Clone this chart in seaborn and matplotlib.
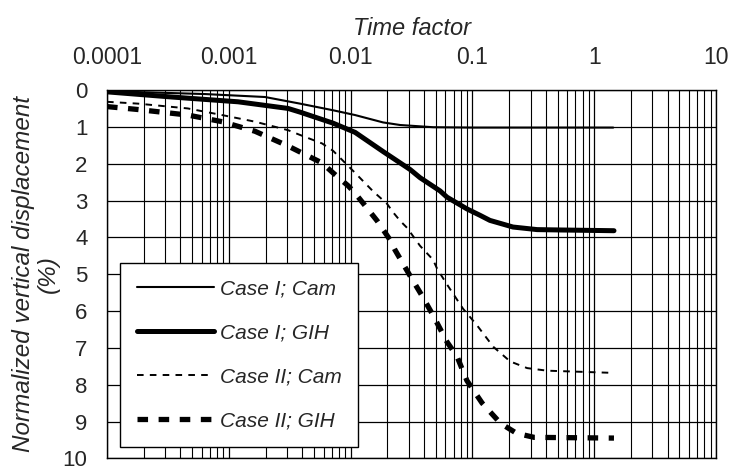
import numpy as np
import pandas as pd
import matplotlib
matplotlib.use("Agg")
import matplotlib.pyplot as plt
import seaborn as sns
from matplotlib.ticker import LogLocator, FixedLocator

# ---- data ----
t_c1_cam = [0.0001, 0.00064, 0.00198, 0.00384, 0.00717, 0.01087, 0.01845, 0.02545,
            0.0475, 0.1, 0.5, 1.43]
d_c1_cam = [0.03, 0.11, 0.19, 0.37, 0.55, 0.68, 0.88, 0.95,
            1.01, 1.02, 1.02, 1.02]

t_c1_gih = [0.0001, 0.00034, 0.00119, 0.00306, 0.00384, 0.00717, 0.01087, 0.01845,
            0.0308, 0.0371, 0.0542, 0.0618, 0.0903, 0.115, 0.139, 0.215, 0.339,
            0.524, 1.45]
d_c1_gih = [0.05, 0.19, 0.32, 0.50, 0.60, 0.90, 1.15, 1.67,
            2.16, 2.38, 2.74, 2.91, 3.23, 3.40, 3.54, 3.72, 3.79,
            3.80, 3.82]

t_c2_cam = [0.0001, 0.00018, 0.00046, 0.00088, 0.00164, 0.00306, 0.00384, 0.00582,
            0.00717, 0.01087, 0.01527, 0.0199, 0.0223, 0.02545, 0.029, 0.0371,
            0.0475, 0.0512, 0.0618, 0.0837, 0.109, 0.148, 0.204, 0.281, 0.409, 1.43]
d_c2_cam = [0.32, 0.37, 0.50, 0.68, 0.86, 1.09, 1.22, 1.45,
            1.65, 2.25, 2.75, 3.09, 3.32, 3.55, 3.74, 4.23,
            4.61, 4.85, 5.28, 5.94, 6.39, 6.97, 7.37, 7.55, 7.62, 7.68]

t_c2_gih = [0.0001, 0.00018, 0.00046, 0.00088, 0.00164, 0.00306, 0.00582, 0.00717,
            0.00953, 0.01087, 0.01648, 0.02105, 0.0231, 0.0308, 0.0386, 0.0475,
            0.0618, 0.0748, 0.0837, 0.09, 0.12, 0.17, 0.23, 0.32, 1.45]
d_c2_gih = [0.45, 0.53, 0.68, 0.86, 1.12, 1.52, 1.98, 2.25,
            2.60, 2.80, 3.55, 4.07, 4.34, 5.05, 5.59, 6.12,
            6.84, 7.24, 7.64, 7.89, 8.50, 9.05, 9.32, 9.43, 9.45]

labels = ["Case I; Cam", "Case I; GIH", "Case II; Cam", "Case II; GIH"]
x_ticks = [0.0001, 0.001, 0.01, 0.1, 1, 10]
x_ticklabels = ["0.0001", "0.001", "0.01", "0.1", "1", "10"]
y_ticks = list(range(0, 11))

series = [(t_c1_cam, d_c1_cam), (t_c1_gih, d_c1_gih),
          (t_c2_cam, d_c2_cam), (t_c2_gih, d_c2_gih)]
frames = []
for lab, (t, d) in zip(labels, series):
    frames.append(pd.DataFrame({"t": t, "d": d, "case": lab}))
df = pd.concat(frames, ignore_index=True)

sns.set_style("white")
plt.rcParams["font.family"] = ["Liberation Sans", "DejaVu Sans"]

fig = plt.figure(figsize=(7.33, 4.73), dpi=100)
ax = fig.add_axes([0.146, 0.031, 0.831, 0.7787])

styles = {
    "Case I; Cam": dict(lw=1.5, ls="-"),
    "Case I; GIH": dict(lw=3.6, ls="-"),
    "Case II; Cam": dict(lw=1.4, ls=(0, (3.4, 3.2))),
    "Case II; GIH": dict(lw=3.8, ls=(0, (2.0, 2.0))),
}
for lab in labels:
    sub = df[df["case"] == lab]
    sns.lineplot(data=sub, x="t", y="d", ax=ax, color="black",
                 linewidth=styles[lab]["lw"], linestyle=styles[lab]["ls"],
                 label=lab, estimator=None, sort=False,
                 solid_joinstyle="round", dash_joinstyle="round")

ax.set_xscale("log")
ax.set_xlim(0.0001, 10)
ax.set_ylim(10, 0)

ax.xaxis.set_major_locator(FixedLocator(x_ticks))
ax.set_xticklabels(x_ticklabels)
ax.xaxis.set_minor_locator(LogLocator(base=10, subs=np.arange(2, 10), numticks=20))
ax.set_yticks(y_ticks)
ax.xaxis.tick_top()
ax.xaxis.set_label_position("top")
ax.tick_params(axis="x", which="both", length=0, labelsize=16.5, pad=15)
ax.tick_params(axis="y", which="both", length=0, labelsize=16, pad=14)

ax.grid(True, which="major", color="black", linewidth=0.9)
ax.grid(True, which="minor", axis="x", color="black", linewidth=0.8)
for s in ax.spines.values():
    s.set_color("black")
    s.set_linewidth(1.0)

ax.set_xlabel("Time factor", fontsize=17, fontstyle="italic", labelpad=8)
ax.set_ylabel("Normalized vertical displacement\n(%)", fontsize=17.5,
              fontstyle="italic", labelpad=2, linespacing=1.1)

leg = ax.legend(loc="lower left", bbox_to_anchor=(0.0213, 0.03), frameon=True,
                fancybox=False, edgecolor="black", framealpha=1,
                prop={"style": "italic", "size": 15}, handlelength=3.7,
                handletextpad=0.3, labelspacing=1.2, borderpad=0.8,
                borderaxespad=0)
leg.get_frame().set_linewidth(1.0)

fig.savefig("out.png", dpi=100)
